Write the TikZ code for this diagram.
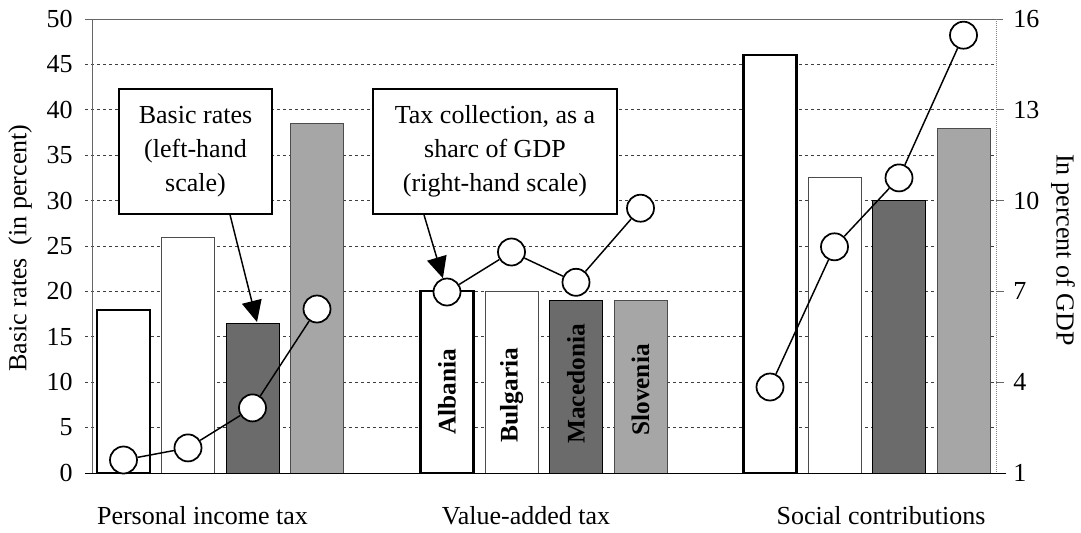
\documentclass[tikz,border=0pt]{standalone}
\usepackage{fontspec}
\setmainfont{Liberation Serif}
\usetikzlibrary{arrows.meta}

\begin{document}
\begin{tikzpicture}[x=0.75pt,y=0.75pt,yscale=-1,xscale=1,
  gridl/.style={black!75, line width=0.6pt, dash pattern={on 2.5pt off 2pt}},
  axisl/.style={black!60, line width=0.6pt},
  barA/.style={draw=black, line width=1.6pt, fill=white},
  barB/.style={draw=black!70, line width=0.6pt, fill=white},
  barC/.style={draw=black, line width=0.6pt, fill=black!58},
  barD/.style={draw=black!70, line width=0.6pt, fill=black!35},
  dotm/.style={circle, draw, line width=1.3pt, fill=white, minimum size=20.25pt, inner sep=0pt},
  link/.style={line width=1.1pt},
  callout/.style={draw, line width=1.3pt, fill=white, align=center, inner sep=0pt, minimum height=93.75pt, font=\fontsize{19.5}{25.5}\selectfont},
  pointer/.style={line width=1.1pt, -{Triangle[length=16pt,width=15pt]}},
  numlbl/.style={inner sep=0pt, font=\fontsize{19.5}{20}\selectfont},
  catlbl/.style={inner sep=0pt, font=\fontsize{19.5}{20}\selectfont},
  cntlbl/.style={rotate=90, inner sep=0pt, font=\bfseries\fontsize{19}{20}\selectfont}
]
\useasboundingbox (0,0) rectangle (1081,532);

%Grid Lines
\draw [gridl] (85,427.6) -- (996,427.6) ;
\draw [gridl] (85,382.2) -- (996,382.2) ;
\draw [gridl] (85,336.8) -- (996,336.8) ;
\draw [gridl] (85,291.4) -- (996,291.4) ;
\draw [gridl] (85,246) -- (996,246) ;
\draw [gridl] (85,200.6) -- (996,200.6) ;
\draw [gridl] (85,155.2) -- (996,155.2) ;
\draw [gridl] (85,109.8) -- (996,109.8) ;
\draw [gridl] (85,64.4) -- (996,64.4) ;
%Axes
\draw [axisl] (85,19) -- (1003,19) ;
\draw [axisl] (92,19) -- (92,473) ;
\draw [black!50, line width=0.5pt, densely dotted] (996,19) -- (996,473) ;
\draw [axisl] (996,382.2) -- (1004,382.2) ;
\draw [axisl] (996,291.4) -- (1004,291.4) ;
\draw [axisl] (996,200.6) -- (1004,200.6) ;
\draw [axisl] (996,109.8) -- (1004,109.8) ;

%Bars - Personal income tax
\draw [barA] (97,473) rectangle (150,309.6) ;
\draw [barB] (161.5,473) rectangle (214.5,236.9) ;
\draw [barC] (226,473) rectangle (279,323.2) ;
\draw [barD] (290.5,473) rectangle (343.5,123.4) ;
%Bars - Value-added tax
\draw [barA] (420.5,473) rectangle (473.5,291.4) ;
\draw [barB] (485,473) rectangle (538,291.4) ;
\draw [barC] (549.5,473) rectangle (602.5,300.5) ;
\draw [barD] (614,473) rectangle (667,300.5) ;
%Bars - Social contributions
\draw [barA] (743.5,473) rectangle (796.5,55.3) ;
\draw [barB] (808,473) rectangle (861,177) ;
\draw [barC] (872.5,473) rectangle (925.5,200.6) ;
\draw [barD] (937,473) rectangle (990,128) ;

%Base line
\draw [black, line width=0.7pt] (85,473) -- (1006,473) ;

% Country names
\node [cntlbl] (nalb) at (447,392) {Albania};
\node [cntlbl] (nbul) at (511.5,395) {Bulgaria};
\node [cntlbl] (nmac) at (576,384) {Macedonia};
\node [cntlbl] (nslo) at (640.5,390) {Slovenia};

%Markers - tax collection
\node [dotm] (m11) at (123.5,460) {};
\node [dotm] (m12) at (188,447.9) {};
\node [dotm] (m13) at (252.5,407.9) {};
\node [dotm] (m14) at (317,309) {};
\node [dotm] (m21) at (447,292) {};
\node [dotm] (m22) at (511.5,252) {};
\node [dotm] (m23) at (576,282.3) {};
\node [dotm] (m24) at (640.5,208.2) {};
\node [dotm] (m31) at (770,387) {};
\node [dotm] (m32) at (834.5,246.8) {};
\node [dotm] (m33) at (899,177.9) {};
\node [dotm] (m34) at (963.5,35.2) {};
\draw [link] (m11) -- (m12) -- (m13) -- (m14) ;
\draw [link] (m21) -- (m22) -- (m23) -- (m24) ;
\draw [link] (m31) -- (m32) -- (m33) -- (m34) ;

%Callouts
\node [callout, minimum width=114.75pt] (cbasic) at (195.5,151.5) {Basic rates\\ (left-hand\\scale)};
\node [callout, minimum width=183pt] (ctax) at (495,151.5) {Tax collection, as a\\sharc of GDP\\(right-hand scale)};
\coordinate (tipA) at (257,322);
\draw [pointer] ([xshift=25.9pt]cbasic.south) -- (tipA) ;
\draw [pointer] ([xshift=-53.25pt]ctax.south) -- (m21) ;

% Left scale
\node [numlbl, anchor=east] (l0) at (73,473) {0};
\node [numlbl, anchor=east] (l5) at (73,427.6) {5};
\node [numlbl, anchor=east] (l10) at (73,382.2) {10};
\node [numlbl, anchor=east] (l15) at (73,336.8) {15};
\node [numlbl, anchor=east] (l20) at (73,291.4) {20};
\node [numlbl, anchor=east] (l25) at (73,246) {25};
\node [numlbl, anchor=east] (l30) at (73,200.6) {30};
\node [numlbl, anchor=east] (l35) at (73,155.2) {35};
\node [numlbl, anchor=east] (l40) at (73,109.8) {40};
\node [numlbl, anchor=east] (l45) at (73,64.4) {45};
\node [numlbl, anchor=east] (l50) at (73,19) {50};
% Right scale
\node [numlbl, anchor=west] (r1) at (1013,473) {1};
\node [numlbl, anchor=west] (r4) at (1013,382.2) {4};
\node [numlbl, anchor=west] (r7) at (1013,291.4) {7};
\node [numlbl, anchor=west] (r10) at (1013,200.6) {10};
\node [numlbl, anchor=west] (r13) at (1013,109.8) {13};
\node [numlbl, anchor=west] (r16) at (1013,19) {16};

% Axis titles
\node [catlbl, rotate=90] (ytl) at (20,248) {Basic rates~~(in percent)};
\node [catlbl, rotate=-90] (ytr) at (1063,250) {In percent of GDP};
% Categories
\node [catlbl] (cpit) at (202.5,516) {Personal income tax};
\node [catlbl] (cvat) at (526,516) {Value-added tax};
\node [catlbl] (csc) at (881,516) {Social contributions};

\end{tikzpicture}
\end{document}
